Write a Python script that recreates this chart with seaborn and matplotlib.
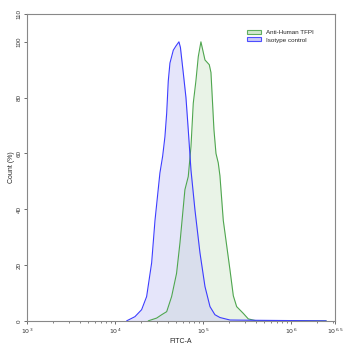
import matplotlib
matplotlib.use("Agg")
import matplotlib.pyplot as plt
import matplotlib.ticker as mticker
import seaborn as sns
import numpy as np
import pandas as pd

# histogram outlines (x as log10 of FITC-A, y as count %)
iso_log = [4.133, 4.227, 4.303, 4.360, 4.417, 4.455, 4.511, 4.542, 4.568, 4.588, 4.606,
           4.625, 4.663, 4.693, 4.727, 4.744, 4.776, 4.807, 4.833, 4.864, 4.909, 4.966,
           5.023, 5.080, 5.136, 5.193, 5.307, 5.600, 6.000, 6.400]
iso_pct = [0.0, 1.5, 4.0, 8.7, 20.8, 36.0, 53.0, 59.0, 66.0, 74.5, 86.0,
           92.4, 97.0, 98.5, 100.0, 98.0, 89.0, 80.0, 68.5, 54.0, 39.8, 24.4,
           12.3, 5.1, 2.2, 1.2, 0.3, 0.2, 0.1, 0.0]

tfpi_log = [4.378, 4.474, 4.531, 4.588, 4.644, 4.700, 4.739, 4.795, 4.833, 4.864, 4.890,
            4.920, 4.947, 4.977, 5.023, 5.072, 5.091, 5.106, 5.125, 5.148, 5.174, 5.193,
            5.231, 5.307, 5.345, 5.383, 5.458, 5.515, 5.610, 6.000, 6.400]
tfpi_pct = [0.0, 1.0, 2.2, 3.3, 8.7, 17.0, 28.0, 47.0, 51.7, 62.5, 78.0,
            86.0, 94.7, 100.0, 93.5, 91.8, 89.0, 80.0, 68.5, 60.0, 56.6, 52.0,
            36.0, 18.3, 9.0, 5.1, 2.7, 0.7, 0.0, 0.1, 0.0]

series_names = ["Anti-Human TFPI", "Isotype control"]
line_colors = ["#4fa64f", "#3d3dff"]
fill_colors = ["#cfe6cb", "#c6c6f4"]

df = pd.concat([
    pd.DataFrame({"FITC-A": 10 ** np.array(tfpi_log), "Count": tfpi_pct, "Sample": series_names[0]}),
    pd.DataFrame({"FITC-A": 10 ** np.array(iso_log), "Count": iso_pct, "Sample": series_names[1]}),
])

sns.set_style("white")
plt.rcParams["font.family"] = ["Liberation Sans", "DejaVu Sans"]

fig = plt.figure(figsize=(3.5, 3.48), dpi=100)
ax = fig.add_axes([0.077, 0.078, 0.88, 0.882])

for name, lc, fc in zip(series_names, line_colors, fill_colors):
    sub = df[df["Sample"] == name]
    ax.fill_between(sub["FITC-A"], sub["Count"], color=fc, alpha=0.45, lw=0)

sns.lineplot(data=df, x="FITC-A", y="Count", hue="Sample", palette=line_colors,
             hue_order=series_names, lw=0.8, ax=ax, legend=False, sort=False)

ax.set_xscale("log")
ax.set_xlim(1e3, 10 ** 6.5)
ax.set_ylim(0, 110)
ax.set_xticks([1e3, 1e4, 1e5, 1e6, 10 ** 6.5])
ax.set_xticklabels(["$10^{3}$", "$10^{4}$", "$10^{5}$", "$10^{6}$", "$10^{6.5}$"])
ax.xaxis.set_minor_locator(mticker.LogLocator(base=10, subs=np.arange(2, 10)))
ax.xaxis.set_minor_formatter(mticker.NullFormatter())
ax.set_yticks([0, 20, 40, 60, 80, 100, 110])
ax.tick_params(axis="both", labelsize=4.5, colors="#333333", length=2, width=0.5,
               pad=2, direction="out", bottom=True, left=True)
ax.tick_params(axis="x", which="minor", length=1.2, width=0.4, bottom=True)
for lab in ax.get_yticklabels():
    lab.set_rotation(90)
    lab.set_va("center")

ax.set_xlabel("FITC-A", fontsize=5, labelpad=2)
ax.set_ylabel("Count (%)", fontsize=5, labelpad=1)
for s in ax.spines.values():
    s.set_color("#888888")
    s.set_linewidth(0.8)

handles = [plt.Rectangle((0, 0), 1, 1, facecolor=fc, edgecolor=lc, lw=0.8, alpha=0.9)
           for lc, fc in zip(line_colors, fill_colors)]
ax.legend(handles, series_names, loc="upper right", bbox_to_anchor=(0.95, 0.965),
          fontsize=4.5, frameon=False, handlelength=2.2, handleheight=0.6,
          handletextpad=0.8, labelspacing=0.3)

fig.savefig("out.png", dpi=100)
